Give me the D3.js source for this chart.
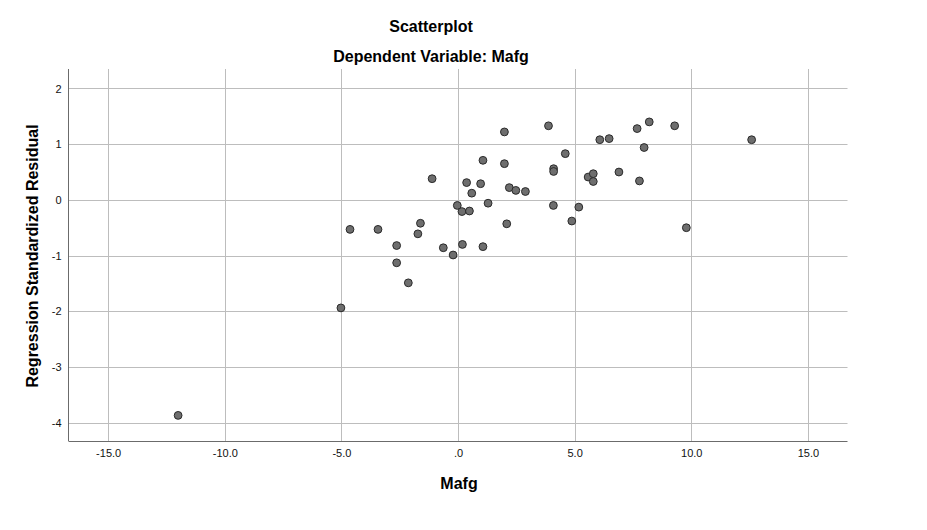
<!DOCTYPE html>
<html>
<head>
<meta charset="utf-8">
<script src="https://cdn.jsdelivr.net/npm/d3@7"></script>
<style>
  html, body { margin: 0; padding: 0; background: #fff; }
  svg { display: block; font-family: Arial, "Liberation Sans", sans-serif; }
</style>
</head>
<body>
<svg id="chart" width="927" height="530"></svg>
<script>
const titleText = "Scatterplot";
const subtitleText = "Dependent Variable: Mafg";
const xLabel = "Mafg";
const yLabel = "Regression Standardized Residual";

const xTicks = [-15, -10, -5, 0, 5, 10, 15];
const xTickLabels = ["-15.0", "-10.0", "-5.0", ".0", "5.0", "10.0", "15.0"];
const yTicks = [2, 1, 0, -1, -2, -3, -4];
const yTickLabels = ["2", "1", "0", "-1", "-2", "-3", "-4"];

const xValues = [-12.0, -5.02, -4.63, -3.43, -2.63, -2.63, -2.13, -1.72, -1.61, -1.11,
  -0.63, -0.21, -0.03, 0.17, 0.19, 0.37, 0.49, 0.59, 0.97, 1.07,
  1.07, 1.29, 1.99, 1.99, 2.09, 2.20, 2.48, 2.89, 3.88, 4.10,
  4.10, 4.09, 4.60, 4.88, 5.18, 5.58, 5.80, 5.80, 6.08, 6.48,
  6.90, 7.68, 7.78, 7.98, 8.20, 9.29, 9.79, 12.59];
const yValues = [-3.87, -1.94, -0.53, -0.53, -0.82, -1.13, -1.49, -0.61, -0.42, 0.38,
  -0.86, -0.99, -0.10, -0.21, -0.80, 0.31, -0.20, 0.12, 0.29, 0.71,
  -0.84, -0.06, 1.22, 0.65, -0.43, 0.22, 0.17, 0.15, 1.33, 0.56,
  0.51, -0.10, 0.83, -0.38, -0.13, 0.41, 0.47, 0.33, 1.08, 1.10,
  0.50, 1.28, 0.34, 0.94, 1.40, 1.33, -0.50, 1.08];

const xDomain = [-16.7, 16.7];
const yDomain = [-4.33, 2.35];

(function () {
const svg = d3.select("#chart");
const mLeft = 68.5, mRight = 847.5, mTop = 69, mBottom = 441;

const x = d3.scaleLinear().domain(xDomain).range([mLeft, mRight]);
const y = d3.scaleLinear().domain(yDomain).range([mBottom, mTop]);

// gridlines
const grid = svg.append("g").attr("stroke", "#bdbdbd").attr("stroke-width", 1);
grid.selectAll("line.v").data(xTicks).join("line")
  .attr("class", "v")
  .attr("x1", d => Math.round(x(d)) + 0.5).attr("x2", d => Math.round(x(d)) + 0.5)
  .attr("y1", mTop).attr("y2", mBottom);
grid.selectAll("line.h").data(yTicks).join("line")
  .attr("class", "h")
  .attr("y1", d => Math.round(y(d)) + 0.5).attr("y2", d => Math.round(y(d)) + 0.5)
  .attr("x1", mLeft).attr("x2", mRight);

// axes
const xAxis = d3.axisBottom(x).tickValues(xTicks).tickSize(0).tickPadding(8)
  .tickFormat((d, i) => xTickLabels[i]);
const gx = svg.append("g").attr("transform", `translate(0,${mBottom})`).call(xAxis);
gx.select(".domain").attr("stroke", "#6b6b6b").attr("d", `M${mLeft},0.5H${mRight}`);
gx.selectAll("text").attr("font-size", 11).attr("fill", "#111").attr("font-family", "Arial, 'Liberation Sans', sans-serif");

const yAxis = d3.axisLeft(y).tickValues(yTicks).tickSize(0).tickPadding(7)
  .tickFormat((d, i) => yTickLabels[i]);
const gy = svg.append("g").attr("transform", `translate(${mLeft},0)`).call(yAxis);
gy.select(".domain").attr("stroke", "#6b6b6b").attr("d", `M0,${mTop}V${mBottom}`);
gy.selectAll("text").attr("font-size", 11).attr("fill", "#111").attr("font-family", "Arial, 'Liberation Sans', sans-serif");

// points
const pts = xValues.map((v, i) => ({ x: v, y: yValues[i] }));
svg.append("g").selectAll("circle").data(pts).join("circle")
  .attr("cx", d => x(d.x)).attr("cy", d => y(d.y))
  .attr("r", 3.9)
  .attr("fill", "#6e6e6e").attr("stroke", "#2a2a2a").attr("stroke-width", 1);

// titles
svg.append("text").attr("x", 431).attr("y", 32).attr("text-anchor", "middle")
  .attr("font-size", 16).attr("font-weight", "bold").attr("fill", "#000").text(titleText);
svg.append("text").attr("x", 431).attr("y", 62).attr("text-anchor", "middle")
  .attr("font-size", 16).attr("font-weight", "bold").attr("fill", "#000").text(subtitleText);
svg.append("text").attr("x", 459).attr("y", 489).attr("text-anchor", "middle")
  .attr("font-size", 16).attr("font-weight", "bold").attr("fill", "#000").text(xLabel);
svg.append("text").attr("transform", "translate(38,256) rotate(-90)").attr("text-anchor", "middle")
  .attr("font-size", 16).attr("font-weight", "bold").attr("fill", "#000").text(yLabel);
})();
</script>
</body>
</html>
